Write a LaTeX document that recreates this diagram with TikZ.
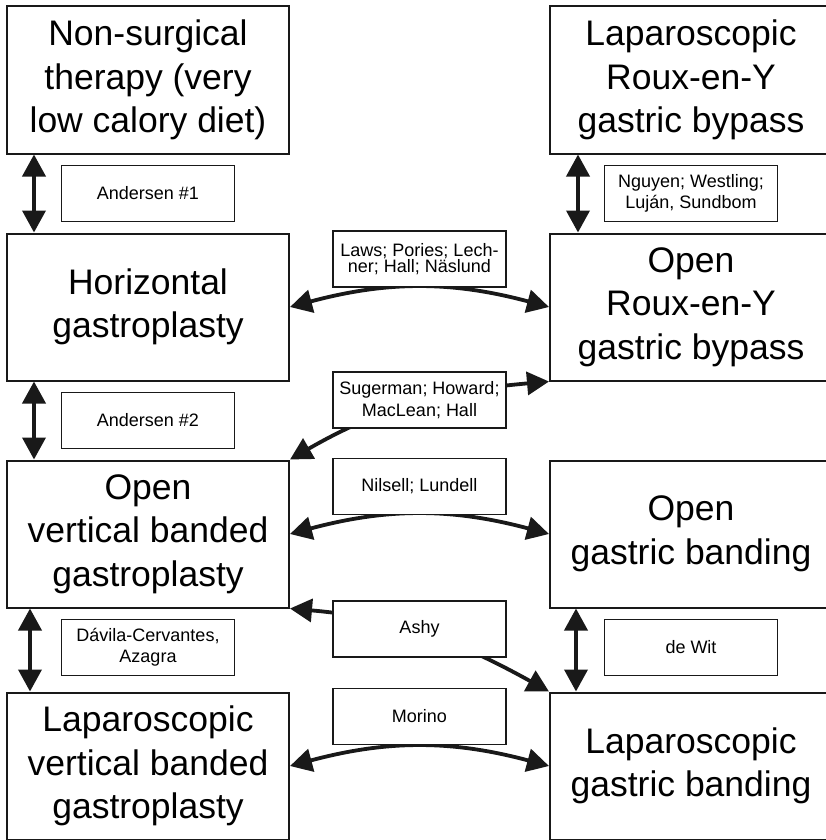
\documentclass[tikz,border=0pt]{standalone}
\usepackage{fontspec}
\setmainfont{Liberation Sans}
\usetikzlibrary{arrows.meta, positioning}

\begin{document}
\begin{tikzpicture}[
  x=1pt, y=1pt,
  >={Triangle[length=22pt, width=23pt]},
  node distance=10pt,
  method/.style={
    draw=black!90, line width=2pt, minimum width=282pt, minimum height=147pt,
    inner sep=0pt, align=center, font=\fontsize{35.5}{43.5}\selectfont
  },
  study/.style={
    draw=black!90, line width=1.7pt, fill=white, minimum width=173pt, minimum height=56pt,
    inner sep=0pt, align=center, font=\fontsize{18}{21.5}\selectfont
  },
  link/.style={<->, line width=3.8pt, black!90}
]

\useasboundingbox (0,0) rectangle (825,-840);

% --- Left column: diet and gastroplasty ---
\node[method] (diet) at (148,-80) {Non-surgical\\therapy (very\\low calory diet)};
\node[method, below=78pt of diet] (hg) {Horizontal\\gastroplasty};
\node[method, below=78pt of hg] (ovbg) {Open\\vertical banded\\gastroplasty};
\node[method, below=83pt of ovbg] (lvbg) {Laparoscopic\\vertical banded\\gastroplasty};

% --- Right column: bypass and banding ---
\node[method, right=259pt of diet] (lrygb) {Laparoscopic\\Roux-en-Y\\gastric bypass};
\node[method, below=78pt of lrygb] (orygb) {Open\\Roux-en-Y\\gastric bypass};
\node[method, below=78pt of orygb] (ogb) {Open\\gastric banding};
\node[method, below=83pt of ogb] (lgb) {Laparoscopic\\gastric banding};

% --- Arrows: within a column ---
\draw[link] ([xshift=28pt]diet.south west) -- ([xshift=28pt]hg.north west);
\draw[link] ([xshift=28pt]hg.south west) -- ([xshift=28pt]ovbg.north west);
\draw[link] ([xshift=24pt]ovbg.south west) -- ([xshift=24pt]lvbg.north west);
\draw[link] ([xshift=29pt]lrygb.south west) -- ([xshift=29pt]orygb.north west);
\draw[link] ([xshift=27pt]ogb.south west) -- ([xshift=27pt]lgb.north west);

% --- Arrows: across the columns ---
\draw[link] (hg.east) to[bend left=15] (orygb.west);
\draw[link] (ovbg.north east) to[out=30, in=185] (orygb.south west);
\draw[link] (ovbg.east) to[bend left=15] (ogb.west);
\draw[link] (ovbg.south east) to[out=-5, in=151] (lgb.north west);
\draw[link] (lvbg.east) to[bend left=15] (lgb.west);

% --- Studies beside the column arrows ---
\node[study, below=of diet] (andersen1) {Andersen \#1};
\node[study, below=of hg] (andersen2) {Andersen \#2};
\node[study, below=of ovbg] (davila) {Dávila-Cervantes,\\Azagra};
\node[study, below=of lrygb] (nguyen) {Nguyen; Westling;\\Luján, Sundbom};
\node[study, below=of ogb] (dewit) {de Wit};

% --- Studies on the cross arrows ---
\node[study, font=\fontsize{18}{16.5}\selectfont] (laws) at (419.5,-259) {Laws; Pories; Lech-\\ner; Hall; Näslund};
\node[study] (sugerman) at (419.5,-400) {Sugerman; Howard;\\MacLean; Hall};
\node[study] (nilsell) at (419.5,-486.5) {Nilsell; Lundell};
\node[study] (ashy) at (419.5,-629) {Ashy};
\node[study] (morino) at (419.5,-716.5) {Morino};

\end{tikzpicture}
\end{document}
